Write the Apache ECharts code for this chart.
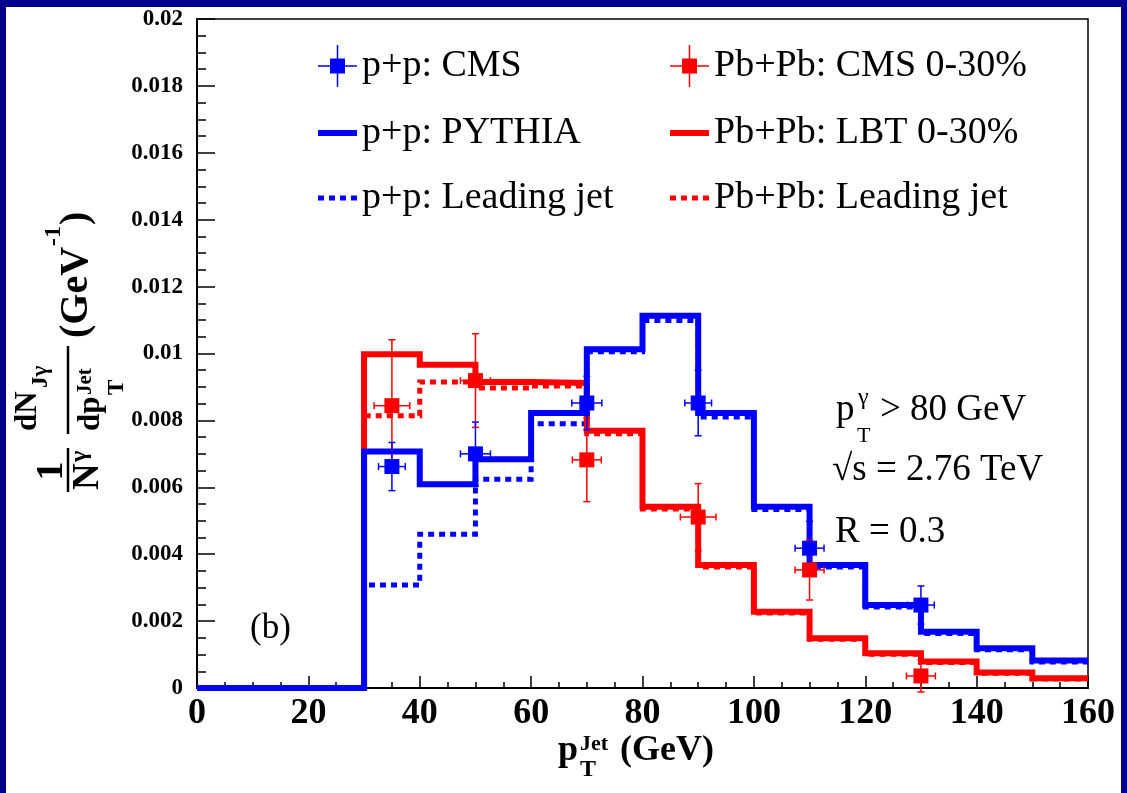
<!DOCTYPE html>
<html><head><meta charset="utf-8">
<script src="https://cdn.jsdelivr.net/npm/echarts@6/dist/echarts.min.js"></script>
<style>
html,body{margin:0;padding:0;width:1127px;height:793px;overflow:hidden;background:#00008c;}
#frame{position:absolute;left:6px;top:7px;width:1115px;height:786px;background:#fff;}
#chart{position:absolute;left:0;top:0;width:1127px;height:793px;}
</style></head><body>
<div id="frame"></div><div id="chart"></div>
<script>
// ---- data ----
const binEdges = [0, 30, 40, 50, 60, 70, 80, 90, 100, 110, 120, 130, 140, 150, 160];
const ppPythia  = [0, 0.00707, 0.00609, 0.00684, 0.00822, 0.01013, 0.01113, 0.00822, 0.00542, 0.00368, 0.00248, 0.00168, 0.00119, 0.00082];
const ppLeading = [0, 0.00308, 0.00460, 0.00624, 0.00790, 0.01005, 0.01099, 0.00810, 0.00534, 0.00362, 0.00242, 0.00163, 0.00114, 0.00078];
const pbLBT     = [0, 0.00998, 0.00966, 0.00915, 0.00912, 0.00769, 0.00542, 0.00368, 0.00228, 0.00149, 0.00104, 0.00079, 0.00046, 0.00029];
const pbLeading = [0, 0.00814, 0.00915, 0.00897, 0.00903, 0.00760, 0.00535, 0.00362, 0.00224, 0.00146, 0.00101, 0.00076, 0.00044, 0.00027];

const cmsX       = [35, 50, 70, 90, 110, 130];
const ppCmsY     = [0.00662, 0.00700, 0.00852, 0.00852, 0.00418, 0.00248];
const ppCmsXErr  = [2.4, 2.7, 2.7, 2.4, 2.6, 2.4];
const ppCmsYErr  = [0.00072, 0.00095, 0.00080, 0.00098, 0.00080, 0.00057];
const pbCmsY     = [0.00844, 0.00919, 0.00682, 0.00511, 0.00353, 0.00036];
const pbCmsXErr  = [3.2, 2.7, 2.6, 3.2, 2.6, 2.6];
const pbCmsYErr  = [0.00197, 0.00140, 0.00125, 0.00100, 0.00090, 0.00048];

const xTickLabels = ['0', '20', '40', '60', '80', '100', '120', '140', '160'];
const yTickLabels = ['0', '0.002', '0.004', '0.006', '0.008', '0.01', '0.012', '0.014', '0.016', '0.018', '0.02'];

const names = {
  ppCms: 'p+p: CMS', pbCms: 'Pb+Pb: CMS 0-30%',
  ppPy: 'p+p: PYTHIA', pbLbt: 'Pb+Pb: LBT 0-30%',
  ppLead: 'p+p: Leading jet', pbLead: 'Pb+Pb: Leading jet'
};

// ---- helpers ----
const FONT = 'Liberation Serif';
const BLUE = '#0000ff', RED = '#ff0000';
function steps(vals) {
  const out = vals.map((v, i) => [binEdges[i], v]);
  out.push([binEdges[binEdges.length - 1], vals[vals.length - 1]]);
  return out;
}
function stepSeries(name, vals, color, dotted) {
  return {
    name: name, type: 'line', step: 'end', data: steps(vals), symbol: 'none',
    lineStyle: { color: color, width: dotted ? 5 : 6, type: dotted ? [6, 5] : 'solid', join: 'miter', cap: 'butt' },
    itemStyle: { color: color }, z: 2, silent: true
  };
}
function errSeries(name, ys, xe, ye, color) {
  return {
    name: name, type: 'custom', z: 3, silent: true,
    itemStyle: { color: color },
    data: cmsX.map((x, i) => [x, ys[i], xe[i], ye[i]]),
    encode: { x: 0, y: 1 },
    renderItem: function (params, api) {
      const x = api.value(0), y = api.value(1), ex = api.value(2), ey = api.value(3);
      const l = api.coord([x - ex, y]), r = api.coord([x + ex, y]);
      const t = api.coord([x, y + ey]), b = api.coord([x, y - ey]);
      const c = 3.5, st = { stroke: color, lineWidth: 1.5 };
      const ln = (x1, y1, x2, y2) => ({ type: 'line', shape: { x1, y1, x2, y2 }, style: st });
      return { type: 'group', children: [
        ln(l[0], l[1], r[0], r[1]), ln(t[0], t[1], b[0], b[1]),
        ln(l[0], l[1] - c, l[0], l[1] + c), ln(r[0], r[1] - c, r[0], r[1] + c),
        ln(t[0] - c, t[1], t[0] + c, t[1]), ln(b[0] - c, b[1], b[0] + c, b[1])
      ] };
    }
  };
}
function ptSeries(name, ys, color) {
  return {
    name: name, type: 'scatter', symbol: 'rect', symbolSize: 15, z: 4, silent: true,
    data: cmsX.map((x, i) => [x, ys[i]]),
    itemStyle: { color: color, opacity: 1 }
  };
}
function txt(text, x, y, size, bold, align) {
  return { type: 'text', x: x, y: y, silent: true, style: {
    text: text, fontFamily: FONT, fontSize: size, fontWeight: bold ? 'bold' : 'normal', fill: '#000',
    align: align || 'left', verticalAlign: 'middle', textAlign: align || 'left', textVerticalAlign: 'middle' } };
}
function bar(x1, y1, x2, y2, w) {
  return { type: 'line', silent: true, shape: { x1, y1, x2, y2 }, style: { stroke: '#000', lineWidth: w } };
}

const markerIcon = 'path://M0,20.25h39v1.5h-39z M18.75,0h1.5v42h-1.5z M12,13.5h15v15h-15z';
const solidIcon = 'path://M0,0h39v6h-39z';
const dottedIcon = 'path://M0,0h6v5h-6z M11,0h6v5h-6z M22,0h6v5h-6z M33,0h6v5h-6z';

const legendBase = {
  orient: 'vertical', top: 40, itemWidth: 39, itemHeight: 42, itemGap: 27,
  textStyle: { fontFamily: FONT, fontSize: 38, color: '#000' },
  itemStyle: { borderWidth: 0 }, symbolKeepAspect: true,
  selectedMode: false
};

const chart = echarts.init(document.getElementById('chart'), null, { renderer: 'canvas' });
const option = {
  animation: false,
  backgroundColor: 'transparent',
  grid: { left: 197, right: 39, top: 19, bottom: 105, show: true, borderColor: '#000', borderWidth: 1.5, backgroundColor: 'transparent' },
  xAxis: {
    type: 'value', min: 0, max: 160, interval: 20,
    axisLine: { lineStyle: { color: '#000', width: 2 } },
    axisTick: { inside: true, length: 12, lineStyle: { color: '#000', width: 1.5 } },
    minorTick: { show: true, splitNumber: 4, length: 6, lineStyle: { color: '#000', width: 1.5 } },
    splitLine: { show: false },
    axisLabel: { color: '#000', fontFamily: FONT, fontWeight: 'bold', fontSize: 36, margin: 8,
      formatter: v => xTickLabels[Math.round(v / 20)] }
  },
  yAxis: {
    type: 'value', min: 0, max: 0.02, interval: 0.002,
    axisLine: { lineStyle: { color: '#000', width: 2 } },
    axisTick: { inside: true, length: 18, lineStyle: { color: '#000', width: 1.5 } },
    minorTick: { show: true, splitNumber: 4, length: 9, lineStyle: { color: '#000', width: 1.5 } },
    splitLine: { show: false },
    axisLabel: { color: '#000', fontFamily: FONT, fontWeight: 'bold', fontSize: 23, margin: 14,
      formatter: v => yTickLabels[Math.round(v / 0.002)] }
  },
  legend: [
    Object.assign({}, legendBase, { left: 313, data: [
      { name: names.ppCms, icon: markerIcon, itemStyle: { color: BLUE } },
      { name: names.ppPy, icon: solidIcon, itemStyle: { color: BLUE } },
      { name: names.ppLead, icon: dottedIcon, itemStyle: { color: BLUE } }] }),
    Object.assign({}, legendBase, { left: 665, data: [
      { name: names.pbCms, icon: markerIcon, itemStyle: { color: RED } },
      { name: names.pbLbt, icon: solidIcon, itemStyle: { color: RED } },
      { name: names.pbLead, icon: dottedIcon, itemStyle: { color: RED } }] })
  ],
  series: [
    stepSeries(names.pbLead, pbLeading, RED, true),
    stepSeries(names.ppLead, ppLeading, BLUE, true),
    stepSeries(names.pbLbt, pbLBT, RED, false),
    stepSeries(names.ppPy, ppPythia, BLUE, false),
    errSeries(names.pbCms, pbCmsY, pbCmsXErr, pbCmsYErr, RED),
    ptSeries(names.pbCms, pbCmsY, RED),
    errSeries(names.ppCms, ppCmsY, ppCmsXErr, ppCmsYErr, BLUE),
    ptSeries(names.ppCms, ppCmsY, BLUE)
  ],
  graphic: [
    // y-axis title (rotated)
    { type: 'group', x: 68, y: 492, rotation: Math.PI / 2, silent: true, children: [
      txt('1', 21, -16, 38, true, 'center'),
      bar(0, 0, 44, 0, 2.5),
      txt('N', 2, 20, 37, true),
      txt('γ', 30, 12, 24, true),
      bar(58, 0, 146, 0, 2.5),
      txt('dN', 61, -40, 31, true),
      txt('Jγ', 104, -27, 23, true),
      txt('dp', 61, 23, 31, true),
      txt('Jet', 97, 18, 21, true),
      txt('T', 97, 49, 23, true),
      txt('(GeV', 154, 9, 40, true),
      txt('-1', 246, -14, 24, true),
      txt(')', 267, 9, 40, true)
    ] },
    // x-axis title
    txt('p', 558, 751, 36, true),
    txt('Jet', 580, 744.5, 22, true),
    txt('T', 580, 770, 24, true),
    txt('(GeV)', 620, 751, 36, true),
    // annotations
    txt('p', 836, 410.5, 37, false),
    txt('γ', 858, 398, 24, false),
    txt('T', 857, 436, 22, false),
    txt('> 80 GeV', 880, 410.5, 37, false),
    txt('√s = 2.76 TeV', 832, 470.5, 37, false),
    txt('R = 0.3', 835, 532.5, 37, false),
    txt('(b)', 250, 629, 35, false)
  ]
};
chart.setOption(option);
</script>
</body></html>
